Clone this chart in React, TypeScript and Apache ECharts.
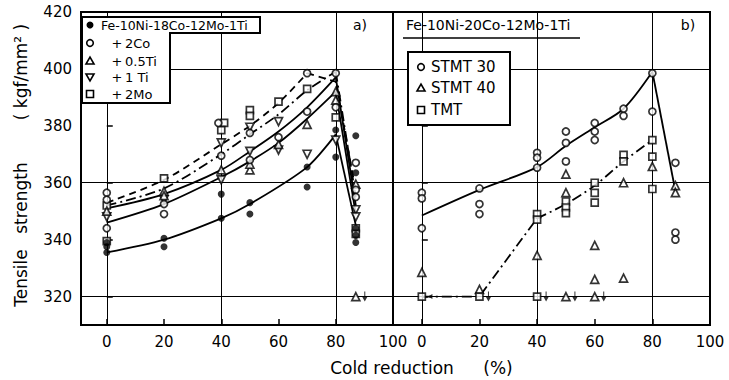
import React, { useEffect, useRef } from "react";
import * as echarts from "echarts";

const FONT = "DejaVu Sans";

// axes
const xLabelValues = [0, 20, 40, 60, 80, 100];
const xTickValues = [0, 20, 40, 60, 80];
const yLabelValues = [320, 340, 360, 380, 400, 420];
const yTickValues = [320, 340, 360, 380, 400];
const gridLinesX = [0, 40, 80];
const gridLinesY = [320, 360, 400];

// ---------- panel a) Fe-10Ni-18Co-12Mo-1Ti ----------
const baseA = [[0, 335.5], [0, 337.5], [0, 339], [20, 340.5], [20, 337.5], [40, 356], [40, 347.5], [50, 353], [50, 349], [70, 365.5], [70, 358.5], [80, 378.5], [80, 369], [87, 376.5], [87, 363.5], [87, 344], [87, 341.5], [87, 339]];
const co2A = [[0, 356.5], [0, 354], [0, 344], [20, 352.5], [20, 349], [39, 381], [40, 369.5], [50, 377.5], [50, 368], [60, 376], [70, 398.5], [70, 385], [80, 398.5], [80, 386.5], [87, 367], [87, 357.5], [87, 355]];
const ti05A = [[0, 350], [20, 357], [20, 355.5], [40, 364.5], [50, 364.5], [50, 366.5], [60, 373.5], [70, 380.5], [80, 392], [80, 389], [87, 359.5], [87, 320]];
const ti1A = [[0, 348], [20, 354], [40, 374], [40, 361], [50, 379.5], [50, 371], [60, 381.5], [60, 371.5], [70, 370], [80, 375], [87, 350.5], [87, 348]];
const mo2A = [[0, 352], [0, 339.5], [20, 361.5], [41, 381], [40, 378.5], [50, 385.5], [50, 383.5], [60, 388.5], [70, 393], [80, 383], [87, 344], [87, 342]];
const arrowsA = [[87, 320]];

const dashedRiseA = [[0, 353], [20, 361], [40, 373.5], [50, 380], [60, 388], [70, 398.5]];
const dashedDropA = [[70, 398.5], [80, 395.5], [87, 357]];
const dashDotRiseA = [[0, 352], [20, 358], [40, 370], [50, 377], [60, 384], [70, 392.5], [80, 399]];
const dashDotDropA = [[80, 399], [87, 355]];
const solid1RiseA = [[0, 351], [20, 356], [40, 364.5], [50, 371], [60, 378], [70, 386.5], [80, 397]];
const solid1DropA = [[80, 397], [87, 352]];
const solid2RiseA = [[0, 346], [20, 352.5], [40, 362], [50, 367.5], [60, 374], [70, 382.5], [80, 392]];
const solid2DropA = [[80, 392], [87, 349]];
const baseRiseA = [[0, 335.5], [20, 340], [40, 347.5], [50, 352.5], [70, 365.5], [80, 377]];
const baseDropA = [[80, 377], [87, 345]];

// ---------- panel b) Fe-10Ni-20Co-12Mo-1Ti ----------
const stmt30B = [[0, 356.5], [0, 354.5], [0, 344], [20, 358], [20, 352.5], [20, 349], [40, 370.5], [40, 368.8], [40, 365.3], [50, 378], [50, 374], [50, 367.5], [60, 381], [60, 378], [60, 375], [70, 386], [70, 383.5], [80, 398.5], [80, 385], [88, 367], [88, 342.5], [88, 340]];
const stmt40B = [[0, 328.5], [20, 322.5], [40, 334.5], [50, 363], [50, 356.5], [50, 320], [60, 338], [60, 326], [60, 320], [70, 360], [70, 326.5], [80, 365.7], [88, 359], [88, 356.5]];
const tmtB = [[0, 320], [20, 320], [40, 349], [40, 347], [40, 320], [50, 353.4], [50, 351.3], [50, 349.3], [60, 360], [60, 356.4], [60, 353], [70, 369.8], [70, 367.5], [80, 375], [80, 369.2], [80, 357.8]];
const arrowsB = [[20, 320], [40, 320], [50, 320], [60, 320]];
const leftArrowsB = [[0, 320]];

const stmt30RiseB = [[0, 348.5], [20, 357.5], [40, 365.5], [50, 373], [60, 379.5], [70, 386], [80, 399]];
const stmt30DropB = [[80, 399], [88, 357]];
const tmtLowB = [[0, 320], [20, 320], [40, 347.5]];
const tmtRiseB = [[40, 347.5], [50, 352.5], [60, 359], [70, 367.5], [80, 375]];

const openStyle = { color: "#fff", borderColor: "#000", borderWidth: 1.7 };

const DOWN_ARROW = "path://M4,0 L6,0 L6,7 L10,7 L5,13 L0,7 L4,7 Z";
const LEFT_ARROW = "path://M13,4 L13,6 L6,6 L6,10 L0,5 L6,0 L6,4 Z";

function scatter(data: number[][], idx: number, symbol: string, size: number, extra: any = {}) {
  return {
    type: "scatter",
    xAxisIndex: idx,
    yAxisIndex: idx,
    data,
    symbol,
    symbolSize: size,
    itemStyle: openStyle,
    z: 5,
    silent: true,
    ...extra,
  };
}

function curve(data: number[][], idx: number, type: any, smooth: number) {
  return {
    type: "line",
    xAxisIndex: idx,
    yAxisIndex: idx,
    data,
    symbol: "none",
    showSymbol: false,
    smooth,
    lineStyle: { color: "#000", width: 1.8, type },
    z: 3,
    silent: true,
  };
}

function arrowSeries(data: number[][], idx: number, symbol: string, size: number[], offset: number[]) {
  return {
    type: "scatter",
    xAxisIndex: idx,
    yAxisIndex: idx,
    data,
    symbol,
    symbolSize: size,
    symbolOffset: offset,
    itemStyle: { color: "#000" },
    z: 6,
    silent: true,
  };
}

function gridMarks(idx: number) {
  return {
    type: "line",
    xAxisIndex: idx,
    yAxisIndex: idx,
    data: [],
    symbol: "none",
    silent: true,
    markLine: {
      silent: true,
      symbol: ["none", "none"],
      label: { show: false },
      lineStyle: { color: "#000", width: 1, type: "solid" },
      data: [
        ...gridLinesX.map((v) => ({ xAxis: v })),
        ...gridLinesY.map((v) => ({ yAxis: v })),
      ],
    },
    z: 1,
  };
}

const DASHED = [7, 5];
const DASHDOT = [10, 4, 2, 4];

function xAxisDef(idx: number, min: number) {
  return {
    type: "value",
    gridIndex: idx,
    min,
    max: 100,
    axisLine: { show: false },
    axisTick: {
      show: true,
      inside: true,
      length: 6,
      customValues: xTickValues,
      lineStyle: { color: "#000", width: 1.5 },
    },
    axisLabel: {
      customValues: xLabelValues,
      margin: 9,
      fontFamily: FONT,
      fontSize: 15,
      color: "#000",
    },
    splitLine: { show: false },
  };
}

function yAxisDef(idx: number, showLabels: boolean) {
  return {
    type: "value",
    gridIndex: idx,
    min: 310,
    max: 420,
    axisLine: { show: false },
    axisTick: {
      show: true,
      inside: true,
      length: 6,
      customValues: yTickValues,
      lineStyle: { color: "#000", width: 1.5 },
    },
    axisLabel: {
      show: showLabels,
      customValues: yLabelValues,
      margin: 9,
      fontFamily: FONT,
      fontSize: 15,
      color: "#000",
    },
    splitLine: { show: false },
  };
}

function txt(text: string, x: number, y: number, size: number, align = "left", extra: any = {}) {
  return {
    type: "text",
    x,
    y,
    z: 101,
    silent: true,
    style: {
      text,
      font: `${size}px "${FONT}"`,
      fill: "#000",
      textAlign: align,
      textVerticalAlign: "middle",
    },
    ...extra,
  };
}

function tri(cx: number, cy: number, down: boolean) {
  const h = 4;
  const pts = down
    ? [[cx - 4, cy - h + 1], [cx + 4, cy - h + 1], [cx, cy + h]]
    : [[cx - 4, cy + h - 1], [cx + 4, cy + h - 1], [cx, cy - h]];
  return {
    type: "polygon",
    z: 101,
    silent: true,
    shape: { points: pts },
    style: { fill: "#fff", stroke: "#000", lineWidth: 1.6 },
  };
}

export default function App() {
  const ref = useRef<HTMLDivElement>(null);
  useEffect(() => {
    if (!ref.current) return;
    const chart = echarts.init(ref.current, undefined, { renderer: "svg" });
    const option: any = {
      animation: false,
      backgroundColor: "#fff",
      grid: [
        { left: 81, top: 12, width: 312, height: 313, show: true, borderColor: "#000", borderWidth: 2, backgroundColor: "transparent" },
        { left: 393, top: 12, width: 317, height: 313, show: true, borderColor: "#000", borderWidth: 2, backgroundColor: "transparent" },
      ],
      xAxis: [xAxisDef(0, -9), xAxisDef(1, -10)],
      yAxis: [yAxisDef(0, true), yAxisDef(1, false)],
      series: [
        gridMarks(0),
        gridMarks(1),
        // panel a curves
        curve(dashedRiseA, 0, DASHED, 0.3),
        curve(dashedDropA, 0, DASHED, 0),
        curve(dashDotRiseA, 0, DASHDOT, 0.3),
        curve(dashDotDropA, 0, DASHDOT, 0),
        curve(solid1RiseA, 0, "solid", 0.3),
        curve(solid1DropA, 0, "solid", 0),
        curve(solid2RiseA, 0, "solid", 0.3),
        curve(solid2DropA, 0, "solid", 0),
        curve(baseRiseA, 0, "solid", 0.3),
        curve(baseDropA, 0, "solid", 0),
        // panel a markers
        scatter(mo2A, 0, "rect", 7),
        scatter(ti1A, 0, "triangle", 8, { symbolRotate: 180 }),
        scatter(ti05A, 0, "triangle", 8),
        scatter(co2A, 0, "circle", 7),
        scatter(baseA, 0, "circle", 7, { itemStyle: { color: "#000" } }),
        arrowSeries(arrowsA, 0, DOWN_ARROW, [5, 10], [9, 0]),
        // panel b curves
        curve(stmt30RiseB, 1, "solid", 0.3),
        curve(stmt30DropB, 1, "solid", 0),
        curve(tmtLowB, 1, DASHDOT, 0),
        curve(tmtRiseB, 1, DASHDOT, 0.3),
        // panel b markers
        scatter(stmt30B, 1, "circle", 7),
        scatter(stmt40B, 1, "triangle", 8),
        scatter(tmtB, 1, "rect", 7),
        arrowSeries(arrowsB, 1, DOWN_ARROW, [5, 10], [9, 0]),
        arrowSeries(leftArrowsB, 1, LEFT_ARROW, [10, 5], [11, 0]),
      ],
      graphic: [
        // panel a legend box
        {
          type: "polygon",
          z: 100,
          silent: true,
          shape: { points: [[82, 17], [260, 17], [260, 33], [170, 33], [170, 103], [82, 103]] },
          style: { fill: "#fff", stroke: "#000", lineWidth: 2 },
        },
        { type: "circle", z: 101, silent: true, shape: { cx: 90, cy: 25, r: 3.5 }, style: { fill: "#000" } },
        txt("Fe-10Ni-18Co-12Mo-1Ti", 101, 25, 12.5),
        { type: "circle", z: 101, silent: true, shape: { cx: 90, cy: 43, r: 3.3 }, style: { fill: "#fff", stroke: "#000", lineWidth: 1.6 } },
        txt("+", 117, 43, 13, "center"),
        txt("2Co", 125, 43, 13),
        tri(90, 61, false),
        txt("+", 117, 61, 13, "center"),
        txt("0.5Ti", 125, 61, 13),
        tri(90, 77, true),
        txt("+", 117, 77, 13, "center"),
        txt("1 Ti", 125, 77, 13),
        { type: "rect", z: 101, silent: true, shape: { x: 86.5, y: 90.5, width: 7, height: 7 }, style: { fill: "#fff", stroke: "#000", lineWidth: 1.6 } },
        txt("+", 117, 94, 13, "center"),
        txt("2Mo", 125, 94, 13),
        txt("a)", 360, 25, 14, "center"),
        // panel b title and legend
        txt("Fe-10Ni-20Co-12Mo-1Ti", 406, 25, 14),
        { type: "line", z: 101, silent: true, shape: { x1: 403, y1: 38, x2: 580, y2: 38 }, style: { stroke: "#000", lineWidth: 1.5 } },
        txt("b)", 688, 25, 14, "center"),
        { type: "rect", z: 100, silent: true, shape: { x: 408, y: 52, width: 102, height: 73 }, style: { fill: "#fff", stroke: "#000", lineWidth: 2 } },
        { type: "circle", z: 101, silent: true, shape: { cx: 421, cy: 67, r: 3.3 }, style: { fill: "#fff", stroke: "#000", lineWidth: 1.6 } },
        txt("STMT 30", 431, 67, 15),
        tri(421, 88, false),
        txt("STMT 40", 431, 88, 15),
        { type: "rect", z: 101, silent: true, shape: { x: 417.5, y: 106.5, width: 7, height: 7 }, style: { fill: "#fff", stroke: "#000", lineWidth: 1.6 } },
        txt("TMT", 431, 110, 15),
        // axis titles
        txt("Cold reduction", 392, 368, 17, "center"),
        txt("(%)", 498, 368, 17, "center"),
        txt("Tensile", 21, 278, 17, "center", { rotation: Math.PI / 2 }),
        txt("strength", 21, 198, 17, "center", { rotation: Math.PI / 2 }),
        txt("( kgf/mm² )", 21, 72, 17, "center", { rotation: Math.PI / 2 }),
      ],
    };
    chart.setOption(option);
    return () => chart.dispose();
  }, []);
  return (
    <div
      ref={ref}
      style={{ position: "fixed", left: 0, top: 0, width: 729, height: 380, background: "#fff" }}
    />
  );
}
